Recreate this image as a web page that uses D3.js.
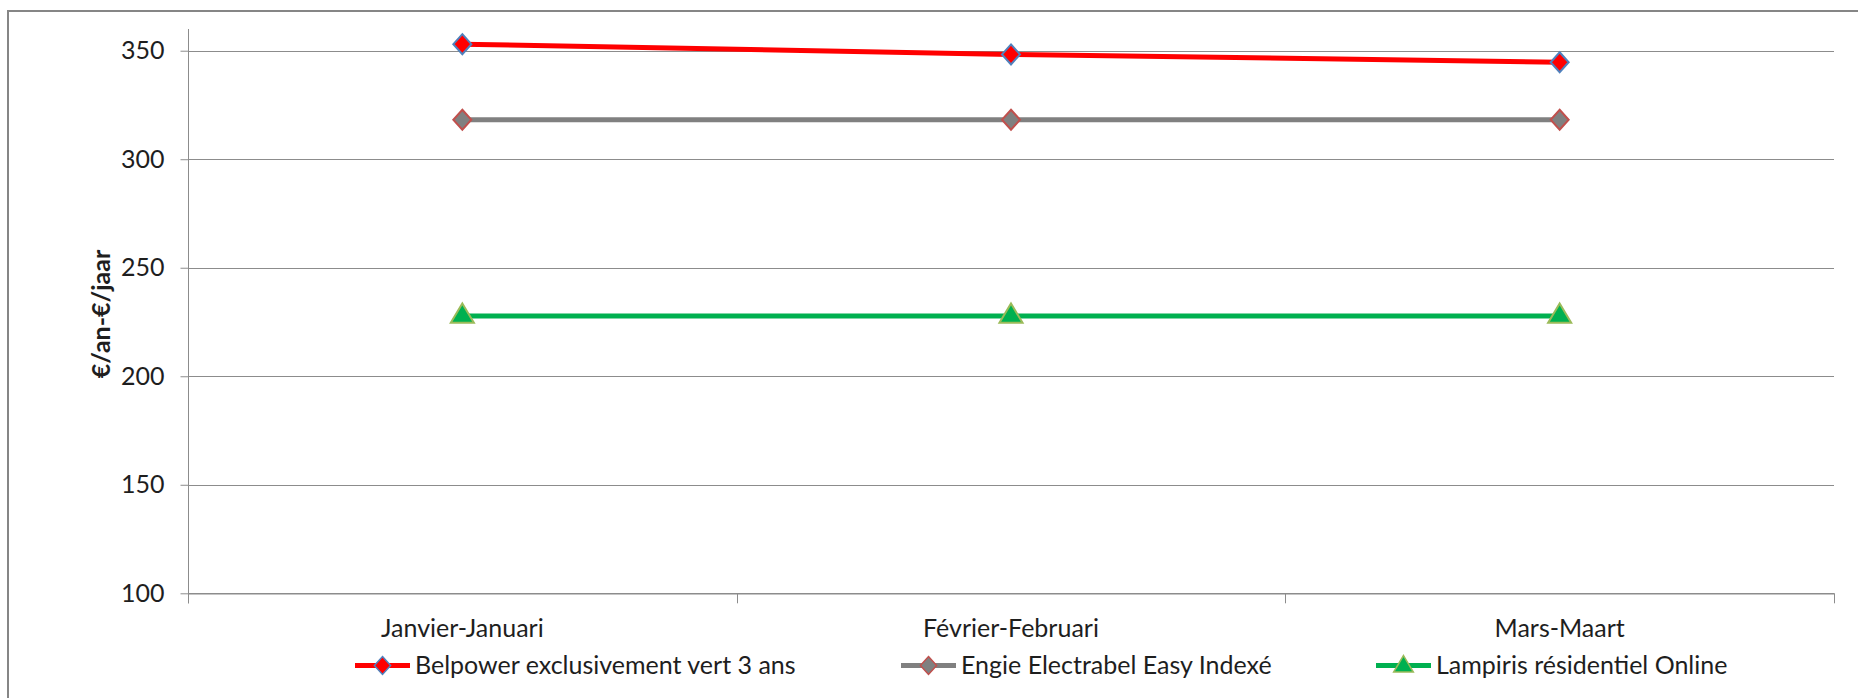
<!DOCTYPE html>
<html><head><meta charset="utf-8">
<script src="https://cdn.jsdelivr.net/npm/d3@7"></script>
<style>
html,body{margin:0;padding:0;background:#fff;}
svg{display:block;}
text{font-family:Lato,"Open Sans",sans-serif;fill:#1e1e1e;}
</style></head>
<body>
<svg id="chart" width="1858" height="698"></svg>
<script>
const categories = ["Janvier-Januari", "Février-Februari", "Mars-Maart"];
const belpower = [353, 348.3, 344.7];
const engie = [318.2, 318.2, 318.2];
const lampiris = [227.8, 227.8, 227.8];
const seriesNames = ["Belpower exclusivement vert 3 ans", "Engie Electrabel Easy Indexé", "Lampiris résidentiel Online"];
const yTicks = [100, 150, 200, 250, 300, 350];
const yTitle = "€/an-€/jaar";

const series = [
  {name: seriesNames[0], values: belpower, color: "#ff0000", marker: "diamond", fill: "#ff0000", stroke: "#4f81bd"},
  {name: seriesNames[1], values: engie, color: "#808080", marker: "diamond", fill: "#808080", stroke: "#c0504d"},
  {name: seriesNames[2], values: lampiris, color: "#00b050", marker: "triangle", fill: "#00b050", stroke: "#9bbb59"}
];

const FS = 25;
const svg = d3.select("#chart");
const plotL = 188, plotR = 1834, plotT = 29, plotB = 593.3;

// outer chart border
svg.append("rect").attr("x", 8).attr("y", 11).attr("width", 1900).attr("height", 800)
  .attr("fill", "none").attr("stroke", "#868686").attr("stroke-width", 2);

const x = d3.scaleBand().domain(categories).range([plotL, plotR]).padding(0);
const y = d3.scaleLinear().domain([100, 360]).range([plotB, plotT]);

// gridlines
svg.append("g").selectAll("line").data(yTicks).join("line")
  .attr("x1", plotL).attr("x2", plotR)
  .attr("y1", d => Math.round(y(d)) + 0.5).attr("y2", d => Math.round(y(d)) + 0.5)
  .attr("stroke", "#8c8c8c").attr("stroke-width", 1);

// y axis
const yAxis = svg.append("g").attr("transform", `translate(${plotL + 0.5},0)`)
  .call(d3.axisLeft(y).tickValues(yTicks).tickSize(8).tickPadding(16).tickSizeOuter(0));
yAxis.select(".domain").attr("stroke", "#8c8c8c").attr("d", `M0,${plotT}V${plotB + 10}`);
yAxis.selectAll(".tick line").attr("stroke", "#8c8c8c");
yAxis.selectAll(".tick text").attr("font-size", FS).attr("font-family", "Lato").attr("fill", "#1e1e1e");

// x axis
const axisY = Math.round(plotB) + 0.5;
const xAxis = svg.append("g").attr("transform", `translate(0,${axisY})`)
  .call(d3.axisBottom(x).tickSize(0).tickPadding(33).tickSizeOuter(0));
xAxis.select(".domain").attr("stroke", "#8c8c8c");
xAxis.selectAll(".tick text").attr("font-size", FS).attr("font-family", "Lato").attr("fill", "#1e1e1e")
  .attr("y", 637 - axisY).attr("dy", null);
const bounds = categories.map(c => x(c)).concat([x(categories[categories.length - 1]) + x.bandwidth()]);
svg.append("g").selectAll("line").data(bounds).join("line")
  .attr("x1", d => Math.round(d) + 0.5).attr("x2", d => Math.round(d) + 0.5)
  .attr("y1", plotB).attr("y2", plotB + 10).attr("stroke", "#8c8c8c");

// y title
svg.append("text").attr("transform", `translate(110,314) rotate(-90)`)
  .attr("text-anchor", "middle").attr("font-size", FS).attr("font-weight", "bold").text(yTitle);

const cx = c => x(c) + x.bandwidth() / 2;
function markerPath(type, size) {
  if (type === "diamond") {
    const h = size;
    return `M0,${-h}L${h * 0.9},0L0,${h}L${-h * 0.9},0Z`;
  }
  const h = size * 1.05;
  return `M0,${-h}L${h * 1.1},${h * 0.85}L${-h * 1.1},${h * 0.85}Z`;
}

const line = d3.line().x((d, i) => cx(categories[i])).y(d => y(d));
series.forEach(s => {
  const g = svg.append("g");
  g.append("path").datum(s.values).attr("d", line)
    .attr("fill", "none").attr("stroke", s.color).attr("stroke-width", 5).attr("stroke-linejoin", "round");
  g.selectAll("path.m").data(s.values).join("path").attr("class", "m")
    .attr("transform", (d, i) => `translate(${cx(categories[i])},${y(d) - (s.marker === "triangle" ? 2 : 0)})`)
    .attr("d", markerPath(s.marker, 10))
    .attr("fill", s.fill).attr("stroke", s.stroke).attr("stroke-width", 2);
});

// legend
const legendX = [355, 901, 1376];
const legendY = 665.5;
series.forEach((s, i) => {
  const g = svg.append("g").attr("transform", `translate(${legendX[i]},${legendY})`);
  g.append("line").attr("x1", 0).attr("x2", 55).attr("y1", 0).attr("y2", 0)
    .attr("stroke", s.color).attr("stroke-width", 5);
  g.append("path").attr("transform", `translate(27.5,${s.marker === "triangle" ? -1 : 0})`)
    .attr("d", markerPath(s.marker, s.marker === "triangle" ? 8.5 : 9))
    .attr("fill", s.fill).attr("stroke", s.stroke).attr("stroke-width", 1.5);
  g.append("text").attr("x", 60).attr("y", 8).attr("font-size", FS).text(s.name);
});
</script>
</body></html>
